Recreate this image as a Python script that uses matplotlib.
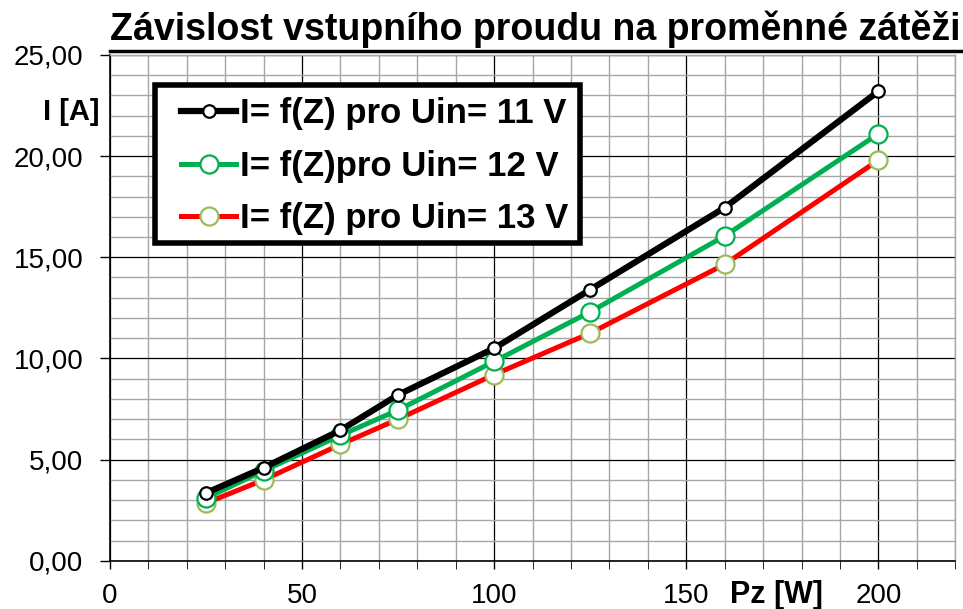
import matplotlib
matplotlib.use('Agg')
import matplotlib.pyplot as plt
from matplotlib.ticker import MultipleLocator, FuncFormatter
from matplotlib.lines import Line2D
from matplotlib.patches import Rectangle

plt.rcParams['font.family'] = ['Liberation Sans', 'DejaVu Sans']

# data
pz = [25, 40, 60, 75, 100, 125, 160, 200]
i_11 = [3.35, 4.6, 6.45, 8.2, 10.5, 13.4, 17.45, 23.2]
i_12 = [3.1, 4.45, 6.2, 7.45, 9.85, 12.3, 16.05, 21.1]
i_13 = [2.85, 4.0, 5.75, 7.0, 9.2, 11.25, 14.65, 19.8]
labels = ['I= f(Z) pro Uin= 11 V', 'I= f(Z)pro Uin= 12 V', 'I= f(Z) pro Uin= 13 V']

fig = plt.figure(figsize=(9.63, 6.09), dpi=100)
ax = fig.add_axes([0.114, 0.079, 0.878, 0.831])

ax.plot(pz, i_11, color='black', lw=4.5, marker='o', ms=9, mfc='white', mec='black', mew=1.6,
        label=labels[0], zorder=5)
ax.plot(pz, i_12, color='#00B050', lw=3.6, marker='o', ms=13, mfc='white', mec='#00B050', mew=1.6,
        label=labels[1], zorder=4)
ax.plot(pz, i_13, color='#FF0000', lw=3.6, marker='o', ms=13, mfc='white', mec='#9BBB59', mew=1.6,
        label=labels[2], zorder=3)

ax.set_xlim(0, 220)
ax.set_ylim(0, 25)
ax.xaxis.set_major_locator(MultipleLocator(50))
ax.xaxis.set_minor_locator(MultipleLocator(10))
ax.yaxis.set_major_locator(MultipleLocator(5))
ax.yaxis.set_minor_locator(MultipleLocator(1))
ax.yaxis.set_major_formatter(FuncFormatter(lambda v, p: f'{v:.2f}'.replace('.', ',')))
ax.xaxis.set_major_formatter(FuncFormatter(lambda v, p: '' if v > 200 else f'{v:.0f}'))

ax.grid(which='minor', color='#a6a6a6', lw=1)
ax.grid(which='major', color='black', lw=0.9)
ax.set_axisbelow(True)

for s in ['top', 'right']:
    ax.spines[s].set_color('#a6a6a6')
    ax.spines[s].set_linewidth(1)
for s in ['left', 'bottom']:
    ax.spines[s].set_linewidth(1.2)

ax.tick_params(axis='both', which='major', labelsize=20, width=1)
ax.tick_params(axis='x', which='both', direction='out', length=6, pad=10)
ax.tick_params(axis='y', which='major', length=7, pad=12)
ax.tick_params(axis='y', which='minor', length=0)

ax.text(-0.046, 0.887, 'I [A]', transform=ax.transAxes, fontsize=21, fontweight='bold',
        ha='center', va='center')
ax.text(0.788, -0.067, 'Pz [W]', transform=ax.transAxes, fontsize=22, fontweight='bold',
        ha='center', va='center')

# legend box drawn by hand so that it can be wider than its content
ax.add_patch(Rectangle((0.0533, 0.6285), 0.5029, 0.3122, transform=ax.transAxes,
                       facecolor='white', edgecolor='black', lw=4, zorder=6))
leg = ax.legend(loc='upper left', bbox_to_anchor=(0.084, 0.916), prop={'size': 25, 'weight': 'bold'},
                frameon=False, handlelength=1.6, handletextpad=0.1,
                labelspacing=0.56, borderpad=0, borderaxespad=0)
leg.set_zorder(7)

title = fig.text(0.556, 0.952, 'Závislost vstupního proudu na proměnné zátěži', fontsize=27,
                 fontweight='bold', ha='center', va='center')
fig.canvas.draw()
bb = title.get_window_extent().transformed(fig.transFigure.inverted())
fig.add_artist(Line2D([bb.x0, bb.x1], [bb.y0 - 0.005, bb.y0 - 0.005], color='black', lw=2.5,
                      transform=fig.transFigure))

fig.savefig('out.png', dpi=100)
